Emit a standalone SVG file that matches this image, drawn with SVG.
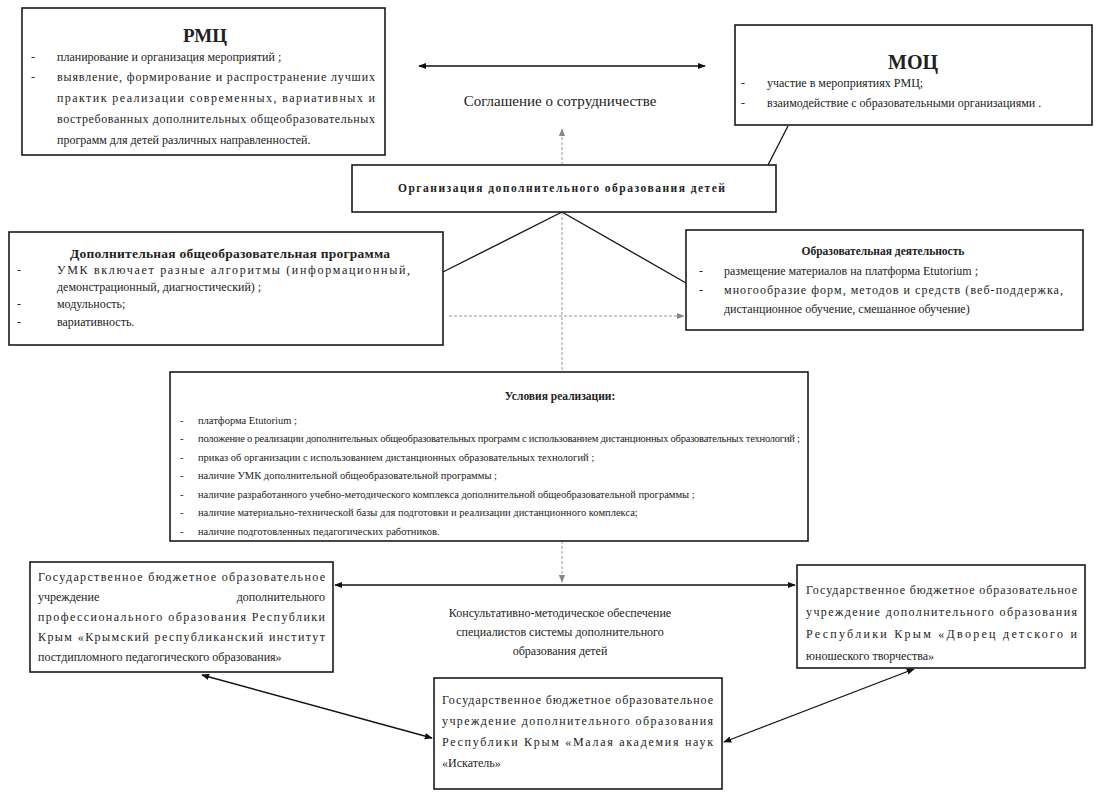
<svg xmlns="http://www.w3.org/2000/svg" width="1098" height="793" viewBox="0 0 1098 793">
<style>
.box{fill:#fff;stroke:#1a1a1a;stroke-width:1.6}
.t{font-family:"Liberation Serif","Times New Roman",serif;font-size:12px;fill:#222}
.s{font-size:10.5px}
.b{font-weight:bold}
.c{text-anchor:middle}
.e{text-anchor:end}
.ln{stroke:#111;stroke-width:1.3;fill:none}
.dl{stroke:#999;stroke-width:1;fill:none;stroke-dasharray:3 2}
</style>
<defs>
<marker id="ah" viewBox="0 0 10 10" refX="9" refY="5" markerWidth="8" markerHeight="8" orient="auto-start-reverse" markerUnits="userSpaceOnUse"><path d="M0,1 L10,5 L0,9 z" fill="#111"/></marker>
<marker id="ag" viewBox="0 0 10 10" refX="9" refY="5" markerWidth="8" markerHeight="8" orient="auto-start-reverse" markerUnits="userSpaceOnUse"><path d="M0,1 L10,5 L0,9 z" fill="#888"/></marker>
</defs>
<rect width="1098" height="793" fill="#fff"/>

<g id="connectors">
<line class="ln" x1="419" y1="66" x2="705" y2="66" marker-start="url(#ah)" marker-end="url(#ah)"/>
<line class="dl" x1="562" y1="165" x2="562" y2="129" marker-end="url(#ag)"/>
<line class="ln" x1="788" y1="126" x2="768" y2="165"/>
<line class="ln" x1="562" y1="212" x2="443" y2="272"/>
<line class="ln" x1="562" y1="212" x2="686" y2="283"/>
<line class="dl" x1="562" y1="212" x2="562" y2="372"/>
<line class="dl" x1="449" y1="316" x2="684" y2="316" marker-end="url(#ag)"/>
<line class="dl" x1="562" y1="541" x2="562" y2="582" marker-end="url(#ag)"/>
<line class="ln" x1="335" y1="585" x2="795" y2="585" marker-start="url(#ah)" marker-end="url(#ah)"/>
<line class="ln" x1="432" y1="738" x2="202" y2="675" marker-start="url(#ah)" marker-end="url(#ah)"/>
<line class="ln" x1="724" y1="742" x2="914" y2="669" marker-start="url(#ah)" marker-end="url(#ah)"/>
</g>

<g id="agreement">
<text class="t c" x="560" y="106" style="font-size:15px">Соглашение о сотрудничестве</text>
</g>

<g id="rmc">
<rect class="box" x="22" y="8" width="363" height="147"/>
<text class="t b c" x="205" y="42" style="font-size:19px">РМЦ</text>
<text class="t" x="31" y="61">-</text>
<text class="t" x="57" y="61">планирование и организация мероприятий ;</text>
<text class="t" x="31" y="81">-</text>
<text class="t" x="57" y="81" textLength="318" lengthAdjust="spacing">выявление, формирование и распространение лучших</text>
<text class="t" x="57" y="102" textLength="318" lengthAdjust="spacing">практик реализации современных, вариативных и</text>
<text class="t" x="57" y="123" textLength="318" lengthAdjust="spacing">востребованных дополнительных общеобразовательных</text>
<text class="t" x="57" y="144">программ для детей различных направленностей.</text>
</g>

<g id="moc">
<rect class="box" x="735" y="25" width="357" height="100"/>
<text class="t b c" x="913" y="69" style="font-size:20px">МОЦ</text>
<text class="t" x="741" y="87">-</text>
<text class="t" x="767" y="87">участие в мероприятиях РМЦ;</text>
<text class="t" x="741" y="107">-</text>
<text class="t" x="767" y="107">взаимодействие с образовательными организациями .</text>
</g>

<g id="org">
<rect class="box" x="352" y="165" width="424" height="47"/>
<text class="t b" x="398" y="192" style="font-size:11.5px" textLength="327" lengthAdjust="spacing">Организация дополнительного образования детей</text>
</g>

<g id="program">
<rect class="box" x="9" y="232" width="434" height="113"/>
<text class="t b" x="70" y="258" style="font-size:13.5px" textLength="320" lengthAdjust="spacing">Дополнительная общеобразовательная программа</text>
<text class="t" x="17" y="274">-</text>
<text class="t" x="57" y="274" textLength="353" lengthAdjust="spacing">УМК включает разные алгоритмы (информационный,</text>
<text class="t" x="57" y="291">демонстрационный, диагностический) ;</text>
<text class="t" x="17" y="308">-</text>
<text class="t" x="57" y="308">модульность;</text>
<text class="t" x="17" y="326">-</text>
<text class="t" x="57" y="326">вариативность.</text>
</g>

<g id="activity">
<rect class="box" x="686" y="230" width="397" height="100"/>
<text class="t b c" x="883" y="255" style="font-size:11.5px">Образовательная деятельность</text>
<text class="t" x="699" y="275">-</text>
<text class="t" x="724" y="275">размещение материалов на платформа Etutorium ;</text>
<text class="t" x="699" y="294">-</text>
<text class="t" x="724" y="294" textLength="339" lengthAdjust="spacing">многообразие форм, методов и средств (веб-поддержка,</text>
<text class="t" x="724" y="313">дистанционное обучение, смешанное обучение)</text>
</g>

<g id="conditions">
<rect class="box" x="170" y="372" width="638" height="169"/>
<text class="t b c" x="560" y="400" style="font-size:11.5px">Условия реализации:</text>
<text class="t s" x="180" y="424">-</text>
<text class="t s" x="198" y="424">платформа Etutorium ;</text>
<text class="t s" x="180" y="442">-</text>
<text class="t s" x="198" y="442" textLength="602" lengthAdjust="spacing">положение о реализации дополнительных общеобразовательных программ с использованием дистанционных образовательных технологий ;</text>
<text class="t s" x="180" y="461">-</text>
<text class="t s" x="198" y="461">приказ об организации с использованием дистанционных образовательных технологий ;</text>
<text class="t s" x="180" y="479">-</text>
<text class="t s" x="198" y="479">наличие УМК дополнительной общеобразовательной программы ;</text>
<text class="t s" x="180" y="498">-</text>
<text class="t s" x="198" y="498">наличие разработанного учебно-методического комплекса дополнительной общеобразовательной программы ;</text>
<text class="t s" x="180" y="516">-</text>
<text class="t s" x="198" y="516">наличие материально-технической базы для подготовки и реализации дистанционного комплекса;</text>
<text class="t s" x="180" y="535">-</text>
<text class="t s" x="198" y="535">наличие подготовленных педагогических работников.</text>
</g>

<g id="consult">
<text class="t c" x="560" y="617">Консультативно-методическое обеспечение</text>
<text class="t c" x="560" y="636">специалистов системы дополнительного</text>
<text class="t c" x="560" y="655">образования детей</text>
</g>

<g id="krippo">
<rect class="box" x="30" y="562" width="303" height="110"/>
<text class="t" x="38" y="581" textLength="287" lengthAdjust="spacing">Государственное бюджетное образовательное</text>
<text class="t" x="38" y="601">учреждение</text>
<text class="t e" x="325" y="601">дополнительного</text>
<text class="t" x="38" y="621" textLength="287" lengthAdjust="spacing">профессионального образования Республики</text>
<text class="t" x="38" y="641" textLength="287" lengthAdjust="spacing">Крым «Крымский республиканский институт</text>
<text class="t" x="38" y="661">постдипломного педагогического образования»</text>
</g>

<g id="dvorets">
<rect class="box" x="797" y="565" width="288" height="103"/>
<text class="t" x="806" y="594" textLength="271" lengthAdjust="spacing">Государственное бюджетное образовательное</text>
<text class="t" x="806" y="616" textLength="271" lengthAdjust="spacing">учреждение дополнительного образования</text>
<text class="t" x="806" y="638" textLength="271" lengthAdjust="spacing">Республики Крым «Дворец детского и</text>
<text class="t" x="806" y="660">юношеского творчества»</text>
</g>

<g id="man">
<rect class="box" x="434" y="678" width="288" height="111"/>
<text class="t" x="442" y="704" textLength="271" lengthAdjust="spacing">Государственное бюджетное образовательное</text>
<text class="t" x="442" y="725" textLength="271" lengthAdjust="spacing">учреждение дополнительного образования</text>
<text class="t" x="442" y="746" textLength="271" lengthAdjust="spacing">Республики Крым «Малая академия наук</text>
<text class="t" x="442" y="767">«Искатель»</text>
</g>
</svg>
